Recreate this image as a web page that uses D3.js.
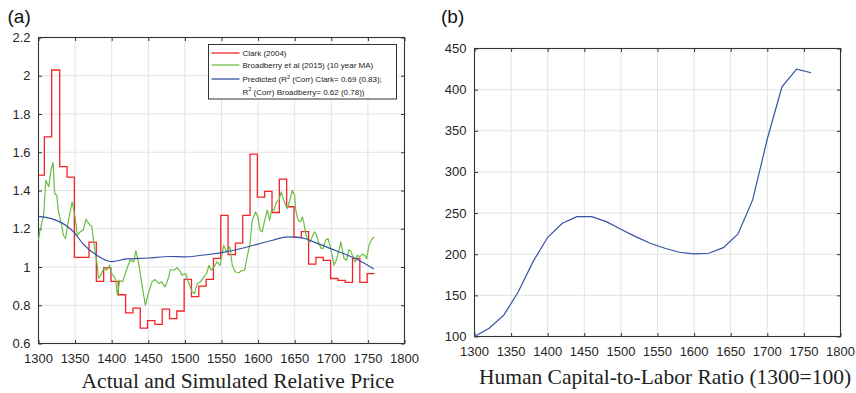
<!DOCTYPE html>
<html>
<head>
<meta charset="utf-8">
<script src="https://cdn.jsdelivr.net/npm/d3@7"></script>
<style>
    body { margin: 0; background: #fff; }
    .tick-label { font-family: "Liberation Sans", Arial, sans-serif; font-size: 13px; fill: #262626; }
    .panel-tag { font-family: "Liberation Sans", Arial, sans-serif; font-size: 19px; fill: #111; }
    .x-title { font-family: "Liberation Serif", "Times New Roman", serif; font-size: 21.5px; fill: #222; }
    .legend-text { font-family: "Liberation Sans", Arial, sans-serif; font-size: 8px; fill: #222; }
    .grid line { stroke: #e3e3e3; stroke-width: 1; }
</style>
</head>
<body>
<svg class="canvas" width="856" height="393"></svg>
<script>
// panel (a): Clark (2004) decadal steps
const clarkYears = [1300, 1308, 1318, 1329, 1339, 1349, 1369, 1379, 1389, 1399, 1409, 1419, 1429, 1439,
    1449, 1459, 1469, 1479, 1489, 1499, 1509, 1519, 1529, 1539, 1549, 1559, 1569, 1579, 1589, 1599,
    1609, 1619, 1629, 1639, 1649, 1659, 1669, 1679, 1689, 1699, 1709, 1719, 1729, 1739, 1749, 1759];
const clarkValues = [1.48, 1.68, 2.03, 1.525, 1.47, 1.05, 1.13, 0.925, 0.995, 0.925, 0.855, 0.76, 0.785, 0.68,
    0.72, 0.70, 0.78, 0.73, 0.77, 0.935, 0.845, 0.90, 0.935, 1.045, 1.27, 1.065, 1.125, 1.27, 1.59, 1.365,
    1.395, 1.285, 1.46, 1.315, 1.155, 1.185, 1.015, 1.05, 1.035, 0.94, 0.93, 0.92, 1.045, 0.92, 0.965, 0.965];

// Broadberry et al (2015), 10 year moving average
const broadYears = [1300, 1302, 1307, 1310, 1314, 1317, 1320, 1322, 1325, 1327, 1332, 1334, 1337, 1341, 1346,
    1350, 1353, 1357, 1361, 1365, 1368, 1373, 1375, 1380, 1382, 1385, 1389, 1393, 1397, 1400, 1405, 1408,
    1411, 1415, 1420, 1425, 1430, 1433, 1437, 1441, 1446, 1450, 1455, 1459, 1464, 1468, 1473, 1478, 1480,
    1485, 1489.5, 1494, 1496, 1501, 1505.5, 1510, 1513, 1517, 1521, 1526, 1529.6, 1533, 1536, 1539.6, 1544,
    1548, 1551, 1553, 1557, 1561.5, 1564.7, 1569, 1574, 1577, 1581.5, 1585, 1589, 1592, 1596.5, 1599.7,
    1602.5, 1605.6, 1609, 1612.5, 1615.7, 1618.4, 1621.6, 1625, 1628.4, 1631.6, 1635, 1640, 1643.4, 1646.6,
    1649.8, 1651.4, 1654.6, 1658, 1660.5, 1662.7, 1665, 1668, 1671, 1674, 1677, 1680, 1683, 1686.4, 1689,
    1692, 1695.5, 1698, 1701.5, 1703.7, 1707, 1710.6, 1713, 1715, 1717.4, 1721, 1724, 1727.4, 1730, 1733,
    1735.6, 1739, 1742.4, 1745.6, 1748.4, 1751.5, 1754.7, 1758.4];
const broadValues = [1.14, 1.19, 1.27, 1.454, 1.42, 1.506, 1.546, 1.384, 1.375, 1.297, 1.21, 1.166, 1.149, 1.245, 1.34,
    1.262, 1.166, 1.184, 1.192, 1.25, 1.23, 1.21, 1.14, 1.018, 0.94, 0.957, 0.992, 0.983, 1.009, 0.966, 0.94, 0.853,
    0.931, 0.922, 0.983, 1.036, 1.027, 1.085, 1.018, 0.914, 0.80, 0.861, 0.922, 0.935, 0.914, 0.922, 0.896, 0.948, 0.987,
    0.983, 0.997, 0.974, 0.957, 0.966, 0.914, 0.870, 0.861, 0.914, 0.922, 0.948, 0.966, 1.009, 0.983, 1.0, 1.027,
    1.009, 1.07, 1.114, 1.079, 1.105, 1.009, 0.974, 0.97, 0.98, 0.983, 1.053, 1.123, 1.244, 1.288, 1.262,
    1.192, 1.184, 1.244, 1.297, 1.244, 1.30, 1.297, 1.34, 1.349, 1.393, 1.349, 1.305, 1.349, 1.401,
    1.375, 1.297, 1.244, 1.236, 1.262, 1.227, 1.175, 1.14, 1.131, 1.158, 1.184, 1.166, 1.123, 1.097, 1.097,
    1.14, 1.149, 1.114, 1.053, 1.009, 1.036, 1.088, 1.131, 1.088, 1.044, 1.036, 1.091, 1.079, 1.044, 1.027,
    1.062, 1.053, 1.067, 1.062, 1.044, 1.114, 1.14, 1.158];

// model prediction
const predYears = [1300, 1320, 1340, 1350, 1360, 1380, 1400, 1420, 1450, 1480, 1500, 1520, 1550, 1570,
    1600, 1620, 1640, 1660, 1680, 1700, 1720, 1740, 1758];
const predValues = [1.265, 1.25, 1.21, 1.175, 1.125, 1.06, 1.028, 1.042, 1.047, 1.055, 1.053, 1.06, 1.075, 1.09,
    1.12, 1.14, 1.158, 1.152, 1.125, 1.095, 1.065, 1.03, 0.99];

// panel (b): human capital-to-labor ratio
const hcYears = [1300, 1320, 1340, 1360, 1380, 1400, 1420, 1440, 1460, 1480, 1500, 1520, 1540, 1560,
    1580, 1600, 1620, 1640, 1660, 1680, 1700, 1720, 1740, 1760];
const hcValues = [100, 110, 126, 154.6, 191, 220.6, 237.6, 245.7, 245.7, 239.6, 230.3, 221.4, 213.3, 207.2,
    202.4, 200.4, 201.2, 208, 224.6, 266, 340, 403.5, 425, 420.5];

const xTicks = d3.range(1300, 1801, 50);
const aTicks = [0.6, 0.8, 1, 1.2, 1.4, 1.6, 1.8, 2, 2.2];
const bTicks = [100, 150, 200, 250, 300, 350, 400, 450];

const legendLabels = ['Clark (2004)', 'Broadberry et al (2015) (10 year MA)'];
const colors = {clark: '#f5222a', broad: '#6cbd45', pred: '#3553a4'};

const svg = d3.select('.canvas');

function makePanel(box, yDomain, yTicks, yFormat, tag, title, titleX) {
    var x = d3.scaleLinear().domain([1300, 1800]).range([box.left, box.right]);
    var y = d3.scaleLinear().domain(yDomain).range([box.bottom, box.top]);
    var g = svg.append('g');

    // grid
    var grid = g.append('g').classed('grid', true);
    grid.selectAll('.gx').data(xTicks.slice(1, -1)).enter().append('line')
        .attr('x1', d => x(d)).attr('x2', d => x(d))
        .attr('y1', box.top).attr('y2', box.bottom);
    grid.selectAll('.gy').data(yTicks.slice(1, -1)).enter().append('line')
        .attr('y1', d => y(d)).attr('y2', d => y(d))
        .attr('x1', box.left).attr('x2', box.right);

    // inward ticks on all four sides, matlab style
    var tickLen = 3.5;
    g.append('g').attr('transform', 'translate(0,' + box.bottom + ')')
        .call(d3.axisBottom(x).tickValues(xTicks).tickSizeInner(-tickLen).tickSizeOuter(0).tickFormat(''));
    g.append('g').attr('transform', 'translate(0,' + box.top + ')')
        .call(d3.axisTop(x).tickValues(xTicks).tickSizeInner(-tickLen).tickSizeOuter(0).tickFormat(''));
    g.append('g').attr('transform', 'translate(' + box.left + ',0)')
        .call(d3.axisLeft(y).tickValues(yTicks).tickSizeInner(-tickLen).tickSizeOuter(0).tickFormat(''));
    g.append('g').attr('transform', 'translate(' + box.right + ',0)')
        .call(d3.axisRight(y).tickValues(yTicks).tickSizeInner(-tickLen).tickSizeOuter(0).tickFormat(''));
    g.selectAll('.domain').remove();
    g.selectAll('.tick line').attr('stroke', '#333');

    g.append('rect')
        .attr('x', box.left).attr('y', box.top)
        .attr('width', box.right - box.left).attr('height', box.bottom - box.top)
        .attr('fill', 'none').attr('stroke', '#333').attr('stroke-width', 1.1);

    // tick labels
    g.selectAll('.xl').data(xTicks).enter().append('text')
        .classed('tick-label', true)
        .attr('x', d => x(d)).attr('y', box.bottom + 19)
        .attr('text-anchor', 'middle')
        .text(d => d);
    g.selectAll('.yl').data(yTicks).enter().append('text')
        .classed('tick-label', true)
        .attr('x', box.left - 8).attr('y', d => y(d) + 4.5)
        .attr('text-anchor', 'end')
        .text(yFormat);

    g.append('text').classed('panel-tag', true)
        .attr('x', box.left - 31).attr('y', 23).text(tag);
    g.append('text').classed('x-title', true)
        .attr('x', titleX).attr('y', box.titleY).attr('text-anchor', 'middle').text(title);

    return {g: g, x: x, y: y};
}

// ---------- panel (a)
var a = makePanel({left: 38.5, right: 404.5, top: 37.5, bottom: 343.5, titleY: 388},
    [0.6, 2.2], aTicks, d => d, '(a)', 'Actual and Simulated Relative Price', 238);

var clarkData = clarkYears.map((yr, i) => [yr, clarkValues[i]]);
a.g.append('path')
    .datum(clarkData)
    .attr('fill', 'none').attr('stroke', colors.clark).attr('stroke-width', 1.3)
    .attr('d', d3.line().x(d => a.x(d[0])).y(d => a.y(d[1])).curve(d3.curveStepAfter));

var broadData = broadYears.map((yr, i) => [yr, broadValues[i]]);
a.g.append('path')
    .datum(broadData)
    .attr('fill', 'none').attr('stroke', colors.broad).attr('stroke-width', 1.2)
    .attr('stroke-linejoin', 'round')
    .attr('d', d3.line().x(d => a.x(d[0])).y(d => a.y(d[1])));

var predData = predYears.map((yr, i) => [yr, predValues[i]]);
a.g.append('path')
    .datum(predData)
    .attr('fill', 'none').attr('stroke', colors.pred).attr('stroke-width', 1.2)
    .attr('d', d3.line().x(d => a.x(d[0])).y(d => a.y(d[1])).curve(d3.curveMonotoneX));

// legend
var legend = a.g.append('g').attr('transform', 'translate(208.5,44.5)');
legend.append('rect')
    .attr('width', 188).attr('height', 54.5)
    .attr('fill', '#fff').attr('stroke', '#333').attr('stroke-width', 1);
var legendRows = [
    {color: colors.clark, y: 8.5},
    {color: colors.broad, y: 20.5},
    {color: colors.pred, y: 34.5}
];
legendRows.forEach(function(row, i){
    legend.append('line')
        .attr('x1', 3).attr('x2', 31).attr('y1', row.y).attr('y2', row.y)
        .attr('stroke', row.color).attr('stroke-width', 1.3);
    if(i < 2){
        legend.append('text').classed('legend-text', true)
            .attr('x', 34).attr('y', row.y + 3).text(legendLabels[i]);
    }
});
var t1 = legend.append('text').classed('legend-text', true).attr('x', 34).attr('y', 37.5);
t1.append('tspan').text('Predicted (R');
t1.append('tspan').attr('dy', -3.5).style('font-size', '5.5px').text('2');
t1.append('tspan').attr('dy', 3.5).text(' (Corr) Clark= 0.69 (0.83);');
var t2 = legend.append('text').classed('legend-text', true).attr('x', 34).attr('y', 50);
t2.append('tspan').text('R');
t2.append('tspan').attr('dy', -3.5).style('font-size', '5.5px').text('2');
t2.append('tspan').attr('dy', 3.5).text(' (Corr) Broadberry= 0.62 (0.78))');

// ---------- panel (b)
var b = makePanel({left: 474.5, right: 840.5, top: 48.5, bottom: 336.5, titleY: 384},
    [100, 450], bTicks, d => d, '(b)', 'Human Capital-to-Labor Ratio (1300=100)', 665);
b.g.select('.panel-tag').attr('x', 441);

var hcData = hcYears.map((yr, i) => [yr, hcValues[i]]);
b.g.append('path')
    .datum(hcData)
    .attr('fill', 'none').attr('stroke', colors.pred).attr('stroke-width', 1.2)
    .attr('d', d3.line().x(d => b.x(d[0])).y(d => b.y(d[1])));
</script>
</body>
</html>
